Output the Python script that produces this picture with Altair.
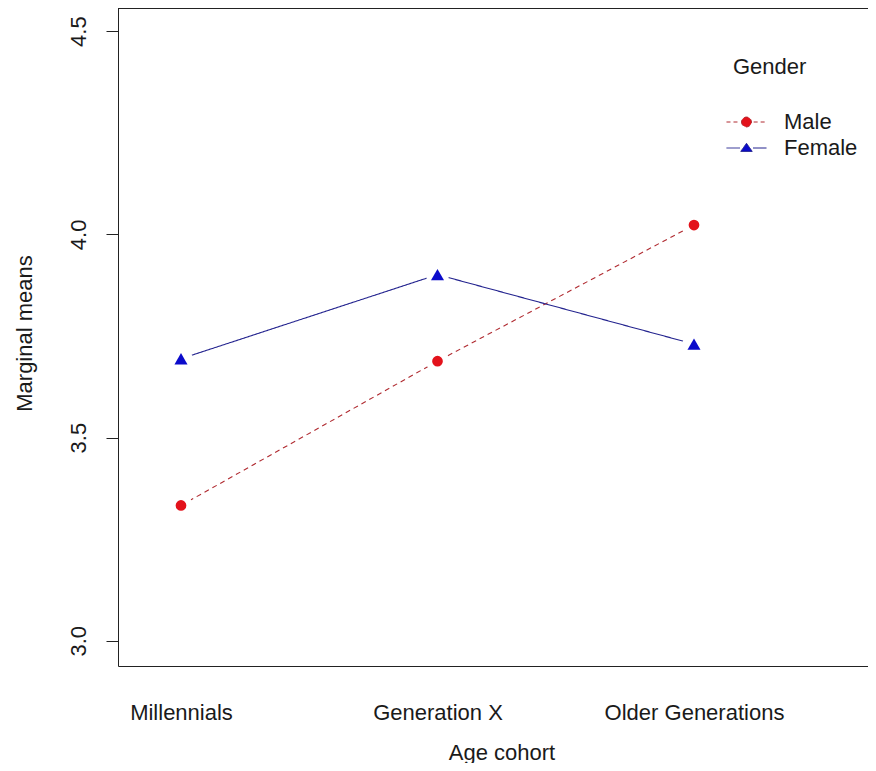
import altair as alt
import pandas as pd

# ---- data ----
categories = ["Millennials", "Generation X", "Older Generations"]
genders = ["Male", "Female"]
male = [3.333, 3.688, 4.023]
female = [3.694, 3.901, 3.730]
y_ticks = [3.0, 3.5, 4.0, 4.5]
x_title = "Age cohort"
y_title = "Marginal means"
legend_title = "Gender"

rows = []
for i, c in enumerate(categories):
    rows.append({"pos": i + 1, "cohort": c, "Gender": "Male", "mean": male[i]})
    rows.append({"pos": i + 1, "cohort": c, "Gender": "Female", "mean": female[i]})
df = pd.DataFrame(rows)

FONT = "Liberation Sans"
TXT = "#1a1a1a"
LINE = "#222222"
colors = ["#E3121B", "#0B0BCB"]
line_colors = ["#B02A30", "#22228E"]
dashes = [[5, 4], [1, 0]]
FS = 22
W = 750

label_expr = "[" + ",".join("'%s'" % c for c in categories) + "][datum.value - 1]"

xenc = alt.X(
    "pos:Q",
    scale=alt.Scale(domain=[0.7544, 0.7544 + W / 256.5], nice=False, zero=False),
    axis=alt.Axis(
        values=[1, 2, 3], labelExpr=label_expr, title=x_title,
        ticks=False, tickSize=0, grid=False,
        domain=True, domainColor=LINE, domainWidth=1,
        labelFont=FONT, labelFontSize=FS, labelColor=TXT,
        labelBaseline="alphabetic", labelPadding=53,
        labelFlush=False, labelOverlap=False,
        titleFont=FONT, titleFontSize=FS, titleFontWeight="normal",
        titleColor=TXT, titleBaseline="alphabetic", titleAlign="center",
        titleX=383.5, titleY=93,
    ),
)
yenc = alt.Y(
    "mean:Q",
    scale=alt.Scale(domain=[2.938, 4.557], nice=False, zero=False),
    axis=alt.Axis(
        values=y_ticks, format=".1f", title=y_title, grid=False,
        ticks=True, tickSize=12, tickColor=LINE, tickWidth=1,
        domain=True, domainColor=LINE, domainWidth=1,
        labelFont=FONT, labelFontSize=FS, labelColor=TXT,
        labelAngle=270, labelAlign="center", labelBaseline="alphabetic",
        labelPadding=21, labelFlush=False, labelOverlap=False,
        titleFont=FONT, titleFontSize=FS, titleFontWeight="normal",
        titleColor=TXT, titleAngle=270, titleAlign="center",
        titleBaseline="alphabetic", titleX=-87, titleY=325,
    ),
)

male_path = "M-1.54,0H-0.55M0.55,0H1.54M-0.38,0A0.38,0.38,0,1,0,0.38,0A0.38,0.38,0,1,0,-0.38,0Z"
female_path = "M-1.54,0H-0.5M0.5,0H1.54M0,-0.36L0.44,0.26L-0.44,0.26Z"

legend = alt.Legend(
    orient="none", legendX=615, legendY=48.5, title=legend_title,
    padding=0, symbolSize=676, labelOffset=24, rowPadding=1, titlePadding=30,
    labelFont=FONT, labelFontSize=FS, labelColor=TXT,
    titleFont=FONT, titleFontSize=FS, titleFontWeight="normal", titleColor=TXT,
    symbolStrokeWidth=1, symbolOpacity=1,
)

base = alt.Chart(df)

layers = []
# lines for each gender (first layer carries the axes)
for g, col, dsh in zip(genders, line_colors, dashes):
    layers.append(
        base.transform_filter(alt.datum.Gender == g)
        .mark_line(strokeWidth=1.1, color=col, strokeDash=dsh)
        .encode(x=xenc, y=yenc)
    )

# white halos reproduce the gaps of R's type="b" lines
layers.append(
    base.mark_point(filled=True, shape="circle", size=529, color="white", opacity=1, strokeWidth=0)
    .encode(x="pos:Q", y="mean:Q")
)

for g, col, shp, sz in zip(genders, colors, ["circle", "triangle-up"], [115, 170]):
    layers.append(
        base.transform_filter(alt.datum.Gender == g)
        .mark_point(filled=True, shape=shp, size=sz, color=col, opacity=1, strokeWidth=0)
        .encode(x="pos:Q", y="mean:Q")
    )

# legend-only layer: invisible marks, visible legend symbols
layers.append(
    base.mark_point(filled=True, opacity=0, strokeWidth=1).encode(
        x="pos:Q", y="mean:Q",
        fill=alt.Fill("Gender:N", scale=alt.Scale(domain=genders, range=colors), legend=legend),
        stroke=alt.Stroke("Gender:N", scale=alt.Scale(domain=genders, range=line_colors), legend=legend),
        shape=alt.Shape("Gender:N", scale=alt.Scale(domain=genders, range=[male_path, female_path]), legend=legend),
        strokeDash=alt.StrokeDash("Gender:N", scale=alt.Scale(domain=genders, range=[[4, 3], [1, 0]]), legend=legend),
    )
)

layers.append(
    alt.Chart(pd.DataFrame({"k": [0]})).mark_rule(color=LINE, strokeWidth=1).encode(
        x=alt.value(0), x2=alt.value(W), y=alt.value(0.5)
    )
)

chart = alt.layer(*layers).properties(
    width=W, height=658,
    padding={"left": 110, "top": 0, "right": 0, "bottom": 97},
    autosize=alt.AutoSizeParams(type="none"),
    background="white",
).configure_view(stroke=None)

chart.save("out.html", embed_options={"renderer": "svg", "actions": False})
